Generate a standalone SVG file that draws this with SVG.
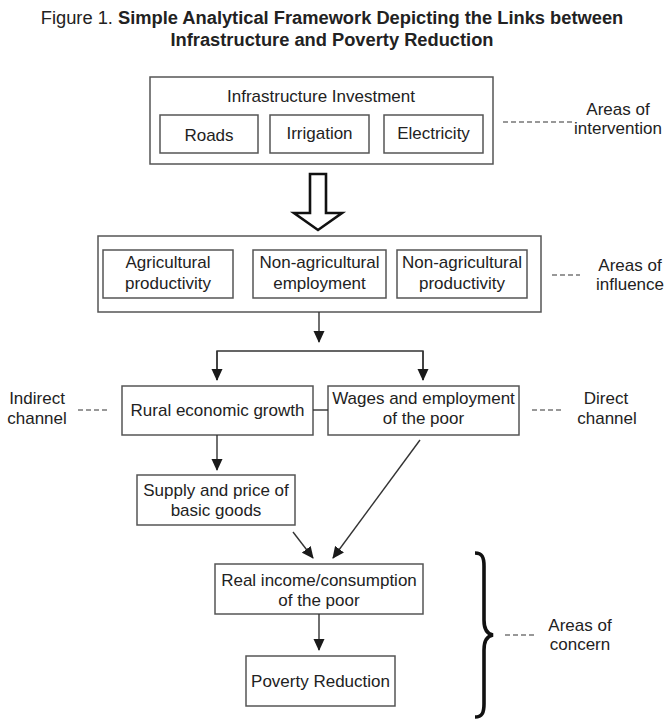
<svg xmlns="http://www.w3.org/2000/svg" width="664" height="720" viewBox="0 0 664 720">
  <defs>
    <marker id="ah" markerUnits="userSpaceOnUse" markerWidth="12" markerHeight="12" refX="11" refY="5.5" orient="auto" viewBox="0 0 12 11">
      <path d="M0,0 L12,5.5 L0,11 Z" fill="#1a1a1a"/>
    </marker>
    <style>
      text { font-family: "Liberation Sans", Arial, sans-serif; font-size: 17px; fill: #222; }
      .c { text-anchor: middle; }
      .title { font-size: 18.3px; }
      .b { font-weight: bold; }
      .box { fill: #fff; stroke: #555; stroke-width: 1.5; }
      .ln { stroke: #333; stroke-width: 1.4; fill: none; }
      .arr { stroke: #333; stroke-width: 1.4; fill: none; marker-end: url(#ah); }
      .dash { stroke: #333; stroke-width: 1.1; stroke-dasharray: 5 3; fill: none; }
    </style>
  </defs>
  <rect width="664" height="720" fill="#fff"/>

  <g id="title">
    <text class="title c" x="332" y="24">Figure 1. <tspan class="b">Simple Analytical Framework Depicting the Links between</tspan></text>
    <text class="title c b" x="332" y="46">Infrastructure and Poverty Reduction</text>
  </g>

  <g id="investment">
    <rect class="box" x="150" y="77" width="343" height="87"/>
    <text class="c" x="321" y="102">Infrastructure Investment</text>
  </g>
  <g id="roads">
    <rect class="box" x="160" y="115" width="98" height="38"/>
    <text class="c" x="209" y="141">Roads</text>
  </g>
  <g id="irrigation">
    <rect class="box" x="270" y="115" width="99" height="38"/>
    <text class="c" x="319.5" y="139">Irrigation</text>
  </g>
  <g id="electricity">
    <rect class="box" x="384" y="115" width="99" height="38"/>
    <text class="c" x="433.5" y="139">Electricity</text>
  </g>
  <g id="label-intervention">
    <line class="dash" x1="503" y1="122" x2="573" y2="122"/>
    <text class="c" x="618" y="115">Areas of</text>
    <text class="c" x="618" y="134">intervention</text>
  </g>

  <g id="hollow-arrow">
    <path d="M310,174 L326,174 L326,213 L342,213 L318,230 L294,213 L310,213 Z" fill="#fff" stroke="#111" stroke-width="2.6" stroke-linejoin="miter"/>
  </g>

  <g id="influence">
    <rect class="box" x="98" y="236" width="443" height="76"/>
  </g>
  <g id="agri-productivity">
    <rect class="box" x="103" y="250" width="130" height="48"/>
    <text class="c" x="168" y="268">Agricultural</text>
    <text class="c" x="168" y="289">productivity</text>
  </g>
  <g id="nonagri-employment">
    <rect class="box" x="253" y="250" width="133" height="48"/>
    <text class="c" x="319.5" y="268">Non-agricultural</text>
    <text class="c" x="319.5" y="289">employment</text>
  </g>
  <g id="nonagri-productivity">
    <rect class="box" x="397" y="250" width="130" height="48"/>
    <text class="c" x="462" y="268">Non-agricultural</text>
    <text class="c" x="462" y="289">productivity</text>
  </g>
  <g id="label-influence">
    <line class="dash" x1="552" y1="275" x2="580" y2="275"/>
    <text class="c" x="630" y="271">Areas of</text>
    <text class="c" x="630" y="290">influence</text>
  </g>

  <g id="rural-growth">
    <rect class="box" x="122" y="386" width="191" height="49"/>
    <text class="c" x="217.5" y="416">Rural economic growth</text>
  </g>
  <g id="wages">
    <rect class="box" x="328" y="386" width="191" height="49"/>
    <text class="c" x="423.5" y="404">Wages and employment</text>
    <text class="c" x="423.5" y="424">of the poor</text>
  </g>
  <g id="label-indirect">
    <text class="c" x="37" y="404">Indirect</text>
    <text class="c" x="37" y="424">channel</text>
    <line class="dash" x1="78" y1="410" x2="108" y2="410"/>
  </g>
  <g id="label-direct">
    <line class="dash" x1="532" y1="410" x2="562" y2="410"/>
    <text class="c" x="606" y="404">Direct</text>
    <text class="c" x="607" y="424">channel</text>
  </g>

  <g id="supply">
    <rect class="box" x="137" y="475" width="158" height="50"/>
    <text class="c" x="216" y="496">Supply and price of</text>
    <text class="c" x="216" y="516">basic goods</text>
  </g>

  <g id="real-income">
    <rect class="box" x="215" y="564" width="208" height="50"/>
    <text class="c" x="319" y="586">Real income/consumption</text>
    <text class="c" x="319" y="606">of the poor</text>
  </g>
  <g id="poverty-reduction">
    <rect class="box" x="246" y="656" width="149" height="50"/>
    <text class="c" x="320.5" y="687">Poverty Reduction</text>
  </g>

  <g id="label-concern">
    <path d="M475,553 C482,553 484,557 484,566 L484,620 C484,629 487,634 493,635 C487,636 484,641 484,650 L484,704 C484,713 482,717 475,717" fill="none" stroke="#111" stroke-width="3.6" stroke-linecap="butt"/>
    <line class="dash" x1="505" y1="635" x2="534" y2="635"/>
    <text class="c" x="580" y="631">Areas of</text>
    <text class="c" x="580" y="650">concern</text>
  </g>

  <g id="connectors">
    <line class="arr" x1="319" y1="312" x2="319" y2="342"/>
    <polyline class="ln" points="217,380 217,351 423,351 423,380" marker-end="none"/>
    <line class="arr" x1="217" y1="351" x2="217" y2="380"/>
    <line class="arr" x1="423" y1="351" x2="423" y2="380"/>
    <line class="ln" x1="313" y1="410" x2="328" y2="410"/>
    <line class="arr" x1="217" y1="435" x2="217" y2="470"/>
    <line class="arr" x1="293" y1="532" x2="313" y2="558"/>
    <line class="arr" x1="420" y1="440" x2="333" y2="558"/>
    <line class="arr" x1="319" y1="614" x2="319" y2="650"/>
  </g>
</svg>
